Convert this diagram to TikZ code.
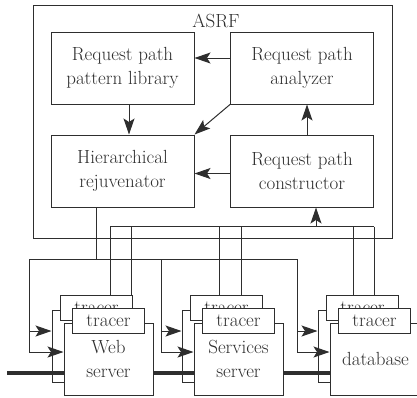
\documentclass[tikz,border=0pt]{standalone}
\usepackage{fontspec}
\usetikzlibrary{arrows.meta}
\begin{document}
\begin{tikzpicture}[x=1pt,y=-1pt,
  line width=1pt, color=black!82,
  box/.style={draw, rectangle, inner sep=0pt, minimum width=143pt, minimum height=72pt, align=center, font=\fontsize{19}{24}\selectfont},
  srv/.style={draw, fill=white, rectangle, inner sep=0pt, minimum width=89pt, minimum height=72pt},
  trc/.style={draw, fill=white, rectangle, inner sep=0pt, minimum width=72.5pt, minimum height=25pt, font=\fontsize{19}{24}\selectfont},
  lbl/.style={align=center, inner sep=0pt, font=\fontsize{19}{24}\selectfont},
  arr/.style={-{Stealth[length=16pt,width=11pt,inset=3.5pt]}},
  bus/.style={line width=3.5pt}]
\clip (0,0) rectangle (417,397);
% ASRF frame
\node[draw, rectangle, inner sep=0pt, minimum width=359pt, minimum height=233pt] (asrf) at (212.5,121.5) {};
\node[lbl, anchor=base] (asrftxt) at (216,27) {ASRF};
\node[box] (lib) at (122.5,68) {Request path\\pattern library};
\node[box] (ana) at (302,68) {Request path\\analyzer};
\node[box] (hier) at (122.5,171) {Hierarchical\\rejuvenator};
\node[box] (con) at (302,171) {Request path\\constructor};
% internal arrows
\draw[arr] ([yshift=10pt]ana.west) -- ([yshift=10pt]lib.east);
\draw[arr] ([xshift=6.5pt]lib.south) -- ([xshift=6.5pt]hier.north);
\draw[arr] (ana.south west) -- (hier.north east);
\draw[arr] ([xshift=5pt]con.north) -- ([xshift=5pt]ana.south);
\draw[arr] ([yshift=-2.5pt]con.west) -- ([yshift=-2.5pt]hier.east);
% servers
\foreach \c/\n in {108.5/w, 238.5/s, 374.5/d}{
  \node[srv] (\n bb) at (\c-12,346) {};
  \node[trc] (\n bt) at (\c-12,308) {tracer};
  \node[srv] (\n fb) at (\c,359) {};
  \node[trc] (\n ft) at (\c,320.5) {tracer};
}
\node[lbl] (wlbl) at (108.5,359) {Web\\server};
\node[lbl] (slbl) at (238.5,359) {Services\\server};
\node[lbl] (dlbl) at (375.5,359) {database};
% rejuvenation bus
\draw ([xshift=-26.5pt]hier.south) -- ++(0,52);
\draw (29,259) -- (297,259);
\foreach \x/\n in {29/w,161/s,297/d}{
  \draw (\x,259) -- (\x,352);
  \draw[arr] (\x,331) -- (\x,331 -| \n bb.west);
  \draw[arr] (\x,352) -- (\x,352 -| \n fb.west);
}
% tracer bus
\draw (110,226.5) -- (374,226.5);
\draw (110,226.5) -- (110,0 |- wbt.north);
\draw (131,226.5) -- (131,0 |- wbt.north);
\draw (219.5,226.5) -- (219.5,0 |- sbt.north);
\draw (241.5,226.5) -- (241.5,0 |- sbt.north);
\draw (353,226.5) -- (353,0 |- dbt.north);
\draw (374,226.5) -- (374,0 |- dbt.north);
\draw[arr] (316,226.5) -- (316,0 |- con.south);
% service chain
\draw[bus] (7,373) -- (7,373 -| wfb.west);
\draw[bus] (wfb.east |- 0,373) -- (sfb.west |- 0,373);
\draw[bus] (sfb.east |- 0,373) -- (dfb.west |- 0,373);
\end{tikzpicture}
\end{document}
